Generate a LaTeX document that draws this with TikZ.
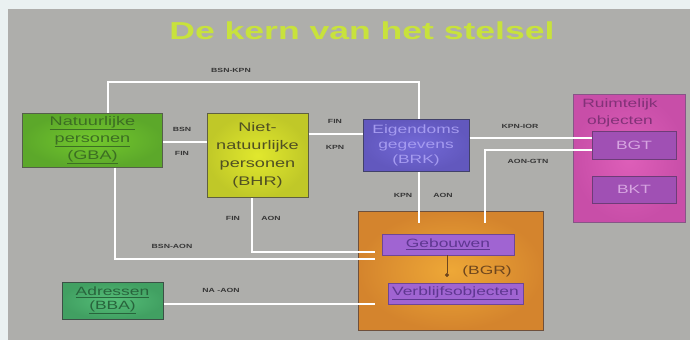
\documentclass[tikz,border=0pt]{standalone}
\usepackage{fontspec}
\setmainfont[FakeStretch=1.45]{Liberation Sans}
\usetikzlibrary{arrows.meta}
\definecolor{outerc}{RGB}{234,241,241}
\definecolor{panelc}{RGB}{174,174,171}
\definecolor{titlec}{RGB}{200,226,60}
\definecolor{labc}{RGB}{55,55,55}
\definecolor{gbai}{RGB}{115,200,45}
\definecolor{gbao}{RGB}{92,168,42}
\definecolor{gbab}{RGB}{85,95,75}
\definecolor{gbat}{RGB}{60,110,35}
\definecolor{bhri}{RGB}{225,232,45}
\definecolor{bhro}{RGB}{192,200,40}
\definecolor{bhrb}{RGB}{95,95,65}
\definecolor{bhrt}{RGB}{80,80,35}
\definecolor{brki}{RGB}{115,105,215}
\definecolor{brko}{RGB}{98,88,190}
\definecolor{brkb}{RGB}{65,65,105}
\definecolor{brkt}{RGB}{165,155,240}
\definecolor{roi}{RGB}{222,95,185}
\definecolor{roo}{RGB}{200,78,168}
\definecolor{rob}{RGB}{135,85,135}
\definecolor{rot}{RGB}{130,50,120}
\definecolor{bgtf}{RGB}{160,80,180}
\definecolor{bgtb}{RGB}{110,60,120}
\definecolor{bgtt}{RGB}{215,165,225}
\definecolor{bgri}{RGB}{238,168,55}
\definecolor{bgro}{RGB}{212,132,45}
\definecolor{bgrb}{RGB}{110,80,60}
\definecolor{bgrt}{RGB}{110,70,30}
\definecolor{gebf}{RGB}{160,100,210}
\definecolor{gebb}{RGB}{110,70,150}
\definecolor{gebt}{RGB}{95,55,145}
\definecolor{bbai}{RGB}{85,190,120}
\definecolor{bbao}{RGB}{65,160,98}
\definecolor{bbab}{RGB}{60,80,70}
\definecolor{bbat}{RGB}{40,100,60}
\tikzset{
  box/.style={rectangle, align=center, inner sep=0pt, line width=1pt, shading=radial},
  wire/.style={draw=white, line width=2.6pt},
  lab/.style={font=\fontsize{6}{7}\selectfont\bfseries, text=labc, inner sep=0pt},
  inner/.style={rectangle, align=center, inner sep=0pt, line width=0.8pt, font=\fontsize{12}{14}\selectfont},
}
\begin{document}
\begin{tikzpicture}[x=1pt,y=-1pt]
\useasboundingbox (0,0) rectangle (690,340);
\fill[outerc] (0,0) rectangle (690,340);
\fill[panelc] (8,9) rectangle (690,340);

\node[font=\fontsize{24.5}{28}\selectfont\bfseries, text=titlec] (title) at (362,31) {De kern van het stelsel};

\node[box, draw=gbab, inner color=gbai, outer color=gbao, minimum width=140, minimum height=54, text=gbat, font=\fontsize{12.5}{17}\selectfont] (gba) at (92.5,140) {\underline{Natuurlijke}\\\underline{personen}\\\underline{(GBA)}};
\node[box, draw=bhrb, inner color=bhri, outer color=bhro, minimum width=101, minimum height=84, text=bhrt, font=\fontsize{12.5}{18}\selectfont] (bhr) at (257.5,155.5) {Niet-\\natuurlijke\\personen\\(BHR)};
\node[box, draw=brkb, inner color=brki, outer color=brko, minimum width=106, minimum height=52, text=brkt, font=\fontsize{12}{15}\selectfont] (brk) at (416,145) {Eigendoms\\gegevens\\(BRK)};
\node[box, draw=rob, inner color=roi, outer color=roo, minimum width=112, minimum height=128] (ro) at (629,158) {};
\node[text=rot, align=center, inner sep=0pt, font=\fontsize{12}{17}\selectfont] (rotitle) at (620,113) {Ruimtelijk\\objecten};
\node[inner, fill=bgtf, draw=bgtb, minimum width=84, minimum height=28, text=bgtt] (bgt) at (634,145) {BGT};
\node[inner, fill=bgtf, draw=bgtb, minimum width=84, minimum height=27, text=bgtt] (bkt) at (634,189.5) {BKT};
\node[box, draw=bgrb, inner color=bgri, outer color=bgro, minimum width=185, minimum height=119] (bgr) at (450.5,270.5) {};
\node[inner, fill=gebf, draw=gebb, minimum width=132, minimum height=21, text=gebt] (geb) at (448,244.5) {\underline{Gebouwen}};
\node[inner, fill=gebf, draw=gebb, minimum width=135, minimum height=21, text=gebt] (vbo) at (455.5,293.5) {\underline{Verblijfsobjecten}};
\node[text=bgrt, inner sep=0pt, font=\fontsize{12}{14}\selectfont] (bgrlabel) at (487,271) {(BGR)};
\node[box, draw=bbab, inner color=bbai, outer color=bbao, minimum width=101, minimum height=37, text=bbat, font=\fontsize{12}{14}\selectfont] (bba) at (112.5,300.5) {\underline{Adressen}\\\underline{(BBA)}};

\draw[wire] (gba.north -| 108,0) |- (419,82) -- (brk.north -| 419,0);
\draw[wire] (gba.east |- 0,142) -- (bhr.west |- 0,142);
\draw[wire] (bhr.east |- 0,134) -- (brk.west |- 0,134);
\draw[wire] (brk.east |- 0,138) -- (bgt.west |- 0,138);
\draw[wire] (bgt.west |- 0,150) -| (485,223);
\draw[wire] (brk.south -| 419,0) -- (419,223);
\draw[wire] (bhr.south -| 252,0) |- (375,252);
\draw[wire] (gba.south -| 115,0) |- (375,259);
\draw[wire] (bba.east |- 0,304) -- (375,304);
\draw[draw=bgrt, line width=0.8pt, -{Circle[length=4pt]}] (geb.south -| 447,0) -- (447,277);

\node[lab] (l1) at (231,70) {BSN-KPN};
\node[lab] (l2) at (182,129) {BSN};
\node[lab] (l3) at (182,153) {FIN};
\node[lab] (l4) at (335,121) {FIN};
\node[lab] (l5) at (335,147) {KPN};
\node[lab] (l6) at (520,126) {KPN-IOR};
\node[lab] (l7) at (528,161) {AON-GTN};
\node[lab] (l8) at (403,195) {KPN};
\node[lab] (l9) at (443,195) {AON};
\node[lab] (l10) at (233,218) {FIN};
\node[lab] (l11) at (271,218) {AON};
\node[lab] (l12) at (172,246) {BSN-AON};
\node[lab] (l13) at (221,290) {NA -AON};
\end{tikzpicture}
\end{document}
